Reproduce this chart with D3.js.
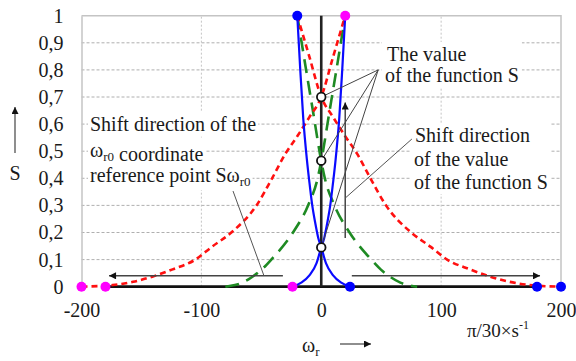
<!DOCTYPE html>
<html>
<head>
<meta charset="utf-8">
<script src="https://cdn.jsdelivr.net/npm/d3@7"></script>
<style>
  html, body { margin: 0; padding: 0; background: #fff; }
  svg { display: block; }
  svg text { font-family: "Liberation Serif", "Tinos", "Times New Roman", "DejaVu Serif", serif; }
</style>
</head>
<body>
<svg id="chart" width="576" height="361"></svg>
<script>
// ---- data -------------------------------------------------------------
const xTickValues = [-200, -100, 0, 100, 200];
const yTickValues = [0, 0.1, 0.2, 0.3, 0.4, 0.5, 0.6, 0.7, 0.8, 0.9, 1];
const xGridValues = [-100, 100];

// red (short dash) characteristic, falling to the right / to the left
const redRightW = [-20, -10, 0, 10, 20, 30, 41, 54, 75, 91, 105, 124, 141, 157, 174, 200];
const redRightS = [1, 0.85, 0.70, 0.625, 0.555, 0.49, 0.40, 0.30, 0.20, 0.148, 0.10, 0.064, 0.037, 0.018, 0.006, 0];
const redLeftW  = [20, 10, 0, -10, -20, -30, -41, -54, -75, -91, -105, -124, -141, -157, -174, -200];
const redLeftS  = [1, 0.85, 0.70, 0.625, 0.555, 0.49, 0.40, 0.30, 0.20, 0.148, 0.10, 0.064, 0.037, 0.018, 0.006, 0];

// green (long dash) characteristic
const greenRightW = [-20, -13, -7, 0, 3, 11, 23.6, 41.7, 50, 58, 66, 72, 80];
const greenRightS = [1, 0.81, 0.65, 0.464, 0.40, 0.30, 0.20, 0.10, 0.062, 0.035, 0.015, 0.006, 0];
const greenLeftW  = [20, 13, 7, 0, -3, -11, -23.6, -41.7, -50, -58, -66, -72, -80];
const greenLeftS  = [1, 0.81, 0.65, 0.464, 0.40, 0.30, 0.20, 0.10, 0.062, 0.035, 0.015, 0.006, 0];

// blue (solid) characteristic
const blueRightW = [-20, -17.5, -15, -12, -10, -7.5, -5, -2.5, 0, 4, 9.7, 16.7, 24];
const blueRightS = [1, 0.80, 0.62, 0.47, 0.39, 0.30, 0.235, 0.18, 0.145, 0.086, 0.043, 0.015, 0];
const blueLeftW  = [20, 17.5, 15, 12, 10, 7.5, 5, 2.5, 0, -4, -9.7, -16.7, -24];
const blueLeftS  = [1, 0.80, 0.62, 0.47, 0.39, 0.30, 0.235, 0.18, 0.145, 0.086, 0.043, 0.015, 0];

// reference points
const magentaW = [-200, -180, -24, 20];
const magentaS = [0, 0, 0, 1];
const bluePtW  = [-20, 24, 180, 200];
const bluePtS  = [1, 0, 0, 0];

// values of S at omega_r = 0
const valueW = [0, 0, 0];
const valueS = [0.70, 0.465, 0.145];

// shift arrows: [w1, s1, w2, s2]
const shiftLeft  = [-32, 0.04, -177, 0.04];
const shiftRight = [25.5, 0.04, 182.5, 0.04];
const shiftUp    = [20, 0.18, 20, 0.68];

// callout anchor points
const valueCalloutW = 47.5, valueCalloutS = 0.80;
const shiftValueCallout = [75.6, 0.545, 20, 0.327];
const shiftRefCallout   = [-73.6, 0.353, -47.75, 0.04];

// ---- layout -----------------------------------------------------------
const svg = d3.select("#chart");
const x = d3.scaleLinear().domain([-200, 200]).range([81.5, 561]);
const y = d3.scaleLinear().domain([0, 1]).range([286.7, 15.7]);
const FONT = 20;
const ink = "#1a1a1a";

const zip = (a, b) => a.map((v, i) => [v, b[i]]);
const line = d3.line().x(d => x(d[0])).y(d => y(d[1])).curve(d3.curveMonotoneX);

// markers
const defs = svg.append("defs");
defs.append("marker")
  .attr("id", "head")
  .attr("viewBox", "0 0 10 10")
  .attr("refX", 10).attr("refY", 5)
  .attr("markerWidth", 10).attr("markerHeight", 7)
  .attr("markerUnits", "userSpaceOnUse")
  .attr("orient", "auto")
  .append("path").attr("d", "M0,0 L10,5 L0,10 Z").attr("fill", "#111");

// grid
const grid = svg.append("g");
grid.selectAll("line.h").data(yTickValues.filter(v => v > 0 && v < 1)).join("line")
  .attr("x1", x(-200)).attr("x2", x(200))
  .attr("y1", d => y(d)).attr("y2", d => y(d))
  .attr("stroke", "#9a9a9a").attr("stroke-width", 0.8).attr("stroke-dasharray", "3,2");
grid.selectAll("line.v").data(xGridValues).join("line")
  .attr("x1", d => x(d)).attr("x2", d => x(d))
  .attr("y1", y(0)).attr("y2", y(1))
  .attr("stroke", "#b5b5b5").attr("stroke-width", 0.8).attr("stroke-dasharray", "2,2");

// frame (top, right)
svg.append("path")
  .attr("d", `M${x(-200)},${y(1)} H${x(200)} V${y(0)}`)
  .attr("fill", "none").attr("stroke", "#c4c4c4").attr("stroke-width", 1.5);

// axes
const yAxis = svg.append("g").attr("transform", `translate(${x(-200)},0)`)
  .call(d3.axisLeft(y).tickValues(yTickValues).tickSize(0).tickPadding(18)
    .tickFormat(d => d === 0 ? "0" : d === 1 ? "1" : String(d).replace(".", ",")));
yAxis.attr("font-family", null);
yAxis.select(".domain").attr("stroke", "#c4c4c4").attr("stroke-width", 1.5);
yAxis.selectAll("text").attr("font-size", FONT).attr("fill", ink);

const xAxis = svg.append("g").attr("transform", `translate(0,${y(0)})`)
  .call(d3.axisBottom(x).tickValues(xTickValues).tickSize(0).tickPadding(16)
    .tickFormat(d => String(d)));
xAxis.attr("font-family", null);
xAxis.select(".domain").remove();
xAxis.selectAll("text").attr("font-size", FONT).attr("fill", ink);

// text blocks with white backing
const labels = svg.append("g");
const labelBacks = labels.append("g");
const labelTexts = labels.append("g");

function addText(g, px, py, parts) {
  const t = g.append("text").attr("x", px).attr("y", py)
    .attr("font-size", FONT).attr("fill", ink);
  parts.forEach(p => {
    if (typeof p === "string") {
      t.append("tspan").text(p);
    } else {
      t.append("tspan").attr("font-size", 13).attr("dy", 4).text(p.sub);
      t.append("tspan").attr("dy", -4).text("");
    }
  });
  return t;
}
function backRect(nodes, pad) {
  let x0 = Infinity, y0 = Infinity, x1 = -Infinity, y1 = -Infinity;
  nodes.forEach(n => {
    const b = n.node().getBBox();
    x0 = Math.min(x0, b.x); y0 = Math.min(y0, b.y);
    x1 = Math.max(x1, b.x + b.width); y1 = Math.max(y1, b.y + b.height);
  });
  labelBacks.append("rect")
    .attr("x", x0 - pad).attr("y", y0 - 1)
    .attr("width", x1 - x0 + 2 * pad).attr("height", y1 - y0 + 2)
    .attr("fill", "#fff");
}

// left block: one backing per line
const leftLines = [
  addText(labelTexts, 90, 131, ["Shift direction of the"]),
  addText(labelTexts, 90, 156.5, ["ω", {sub: "r0"}, " coordinate"]),
  addText(labelTexts, 90, 182, ["reference point Sω", {sub: "r0"}])
];
leftLines.forEach(l => backRect([l], 2));

// value label
const valLines = [
  addText(labelTexts, 387, 61, ["The value"]),
  addText(labelTexts, 385, 82, ["of the function S"])
];
backRect(valLines, 3);

// shift of value label
const shiftLines = [
  addText(labelTexts, 415, 142, ["Shift direction"]),
  addText(labelTexts, 414, 165.5, ["of the value"]),
  addText(labelTexts, 414, 189, ["of the function S"])
];
backRect(shiftLines, 3);

// black reference lines
svg.append("line")
  .attr("x1", x(-180)).attr("x2", x(180)).attr("y1", y(0)).attr("y2", y(0))
  .attr("stroke", "#111").attr("stroke-width", 2.8);
svg.append("line")
  .attr("x1", x(0)).attr("x2", x(0)).attr("y1", y(0)).attr("y2", y(1))
  .attr("stroke", "#222").attr("stroke-width", 2.6);

// curves
const curves = svg.append("g").attr("fill", "none");
[[greenRightW, greenRightS], [greenLeftW, greenLeftS]].forEach(([w, s]) =>
  curves.append("path").attr("d", line(zip(w, s).sort((a, b) => a[0] - b[0])))
    .attr("stroke", "#1e8a23").attr("stroke-width", 2.6).attr("stroke-dasharray", "14,8"));
[[redRightW, redRightS], [redLeftW, redLeftS]].forEach(([w, s]) =>
  curves.append("path").attr("d", line(zip(w, s).sort((a, b) => a[0] - b[0])))
    .attr("stroke", "#ff1010").attr("stroke-width", 2.6).attr("stroke-dasharray", "6,4"));
[[blueRightW, blueRightS], [blueLeftW, blueLeftS]].forEach(([w, s]) =>
  curves.append("path").attr("d", line(zip(w, s).sort((a, b) => a[0] - b[0])))
    .attr("stroke", "#0a0aff").attr("stroke-width", 2.2));

// arrows and callouts
const ann = svg.append("g");
[shiftLeft, shiftRight, shiftUp].forEach(a =>
  ann.append("line")
    .attr("x1", x(a[0])).attr("y1", y(a[1])).attr("x2", x(a[2])).attr("y2", y(a[3]))
    .attr("stroke", "#444").attr("stroke-width", 1.5).attr("marker-end", "url(#head)"));
valueW.forEach((w, i) =>
  ann.append("line")
    .attr("x1", x(valueCalloutW)).attr("y1", y(valueCalloutS))
    .attr("x2", x(w)).attr("y2", y(valueS[i]))
    .attr("stroke", "#444").attr("stroke-width", 1));
[shiftValueCallout, shiftRefCallout].forEach(a =>
  ann.append("line")
    .attr("x1", x(a[0])).attr("y1", y(a[1])).attr("x2", x(a[2])).attr("y2", y(a[3]))
    .attr("stroke", "#555").attr("stroke-width", 1));

// value markers
svg.append("g").selectAll("circle").data(zip(valueW, valueS)).join("circle")
  .attr("cx", d => x(d[0])).attr("cy", d => y(d[1])).attr("r", 4.3)
  .attr("fill", "#fff").attr("stroke", "#111").attr("stroke-width", 1.8);

// reference points
svg.append("g").selectAll("circle").data(zip(magentaW, magentaS)).join("circle")
  .attr("cx", d => x(d[0])).attr("cy", d => y(d[1])).attr("r", 5)
  .attr("fill", "#ff00ff");
svg.append("g").selectAll("circle").data(zip(bluePtW, bluePtS)).join("circle")
  .attr("cx", d => x(d[0])).attr("cy", d => y(d[1])).attr("r", 5)
  .attr("fill", "#0000ff");

// axis titles
svg.append("text").attr("x", 15).attr("y", 180).attr("text-anchor", "middle")
  .attr("font-size", FONT).attr("fill", ink).text("S");
svg.append("line").attr("x1", 15).attr("y1", 153).attr("x2", 15).attr("y2", 107)
  .attr("stroke", "#444").attr("stroke-width", 1.2).attr("marker-end", "url(#head)");

const wt = svg.append("text").attr("x", 302).attr("y", 352).attr("font-size", FONT).attr("fill", ink);
wt.append("tspan").text("ω");
wt.append("tspan").attr("font-size", 13).attr("dy", 4).text("r");
svg.append("line").attr("x1", 340).attr("y1", 344).attr("x2", 371).attr("y2", 344)
  .attr("stroke", "#444").attr("stroke-width", 1.2).attr("marker-end", "url(#head)");

const ut = svg.append("text").attr("x", 467).attr("y", 337).attr("font-size", 19).attr("fill", ink);
ut.append("tspan").text("π/30×s");
ut.append("tspan").attr("font-size", 12).attr("dy", -8).text("-1");
</script>
</body>
</html>
